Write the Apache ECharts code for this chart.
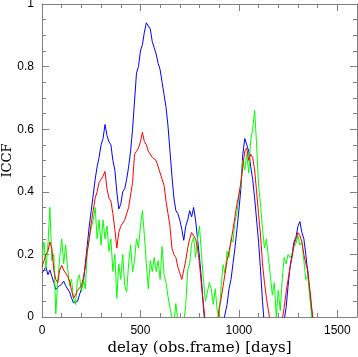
<!DOCTYPE html>
<html>
<head>
<meta charset="utf-8">
<script src="https://cdn.jsdelivr.net/npm/echarts@6/dist/echarts.min.js"></script>
<style>html,body{margin:0;padding:0;background:#fff;}#c{width:358px;height:357px;}</style>
</head>
<body>
<div id="c"></div>
<script>
var xTicks = [0, 500, 1000, 1500];
var yTicks = [0, 0.2, 0.4, 0.6, 0.8, 1];
var delays = [0,10,20,30,40,50,60,70,80,90,100,110,120,130,140,150,160,170,180,190,200,210,220,230,240,250,260,270,280,290,300,310,320,330,340,350,360,370,380,390,400,410,420,430,440,450,460,470,480,490,500,510,520,530,540,550,560,570,580,590,600,610,620,630,640,650,660,670,680,690,700,710,720,730,740,750,760,770,780,790,800,810,820,830,840,850,860,870,880,890,900,910,920,930,940,950,960,970,980,990,1000,1010,1020,1030,1040,1050,1060,1070,1080,1090,1100,1110,1120,1130,1140,1150,1160,1170,1180,1190,1200,1210,1220,1230,1240,1250,1260,1270,1280,1290,1300,1310,1320,1330,1340,1350,1360,1370,1380,1390,1400];
var blueICCF = [0.14,0.15,0.16,0.135,0.15,0.13,0.11,0.088,0.095,0.10,
 0.105,0.115,0.10,0.095,0.08,0.06,0.045,0.043,0.05,0.07,
 0.09,0.11,0.17,0.23,0.29,0.34,0.39,0.44,0.48,0.51,
 0.55,0.57,0.615,0.58,0.56,0.55,0.50,0.47,0.40,0.345,
 0.36,0.40,0.41,0.44,0.48,0.53,0.60,0.69,0.78,0.80,
 0.85,0.87,0.91,0.94,0.935,0.92,0.88,0.86,0.84,0.81,
 0.79,0.75,0.71,0.67,0.61,0.53,0.45,0.38,0.34,0.33,
 0.31,0.28,0.245,0.29,0.31,0.34,0.32,0.35,0.31,0.25,
 0.19,0.12,0.03,-0.04,-0.1,-0.15,-0.2,-0.22,-0.2,-0.16,
 -0.11,-0.06,-0.02,0.01,0.04,0.09,0.12,0.17,0.22,0.28,
 0.34,0.41,0.52,0.57,0.55,0.53,0.48,0.44,0.38,0.31,
 0.24,0.15,0.05,-0.03,-0.1,-0.16,-0.2,-0.22,-0.2,-0.16,
 -0.12,-0.07,-0.03,-0.01,0.03,0.1,0.16,0.2,0.24,0.255,
 0.29,0.305,0.27,0.25,0.2,0.14,0.08,0.02,-0.04,-0.1,
 -0.15];
var redICCF = [0.16,0.18,0.20,0.21,0.24,0.22,0.15,0.12,0.11,0.15,
 0.165,0.15,0.145,0.13,0.115,0.085,0.06,0.07,0.085,0.09,
 0.10,0.125,0.16,0.21,0.25,0.30,0.34,0.38,0.40,0.43,
 0.44,0.45,0.465,0.41,0.38,0.37,0.33,0.28,0.22,0.27,
 0.29,0.30,0.31,0.33,0.35,0.39,0.43,0.52,0.53,0.54,
 0.56,0.59,0.56,0.55,0.53,0.53,0.51,0.51,0.50,0.48,
 0.46,0.44,0.42,0.37,0.33,0.29,0.22,0.20,0.19,0.16,
 0.14,0.12,0.15,0.18,0.22,0.25,0.27,0.27,0.25,0.22,
 0.17,0.10,0.04,-0.02,-0.08,-0.12,-0.14,-0.12,-0.08,-0.02,
 0.03,0.06,0.10,0.14,0.18,0.21,0.24,0.28,0.32,0.36,
 0.39,0.43,0.48,0.53,0.54,0.50,0.52,0.51,0.47,0.40,
 0.33,0.26,0.17,0.11,0.06,0.02,-0.02,-0.06,-0.09,-0.1,
 -0.08,-0.05,-0.01,0.03,0.08,0.12,0.16,0.19,0.23,0.25,
 0.27,0.26,0.24,0.2,0.17,0.15,0.09,0.03,-0.03,-0.08,
 -0.12];
var greenICCF = [0.19,0.24,0.155,0.23,0.35,0.18,0.20,0.01,0.115,0.19,
 0.25,0.17,0.23,0.155,0.10,0.12,0.06,0.04,0.12,0.135,
 0.08,0.12,0.09,0.21,0.25,0.285,0.31,0.35,0.25,0.31,
 0.23,0.31,0.25,0.29,0.21,0.25,0.145,0.2,0.06,0.17,
 0.12,0.2,0.1,0.08,0.17,0.23,0.145,0.18,0.25,0.22,
 0.29,0.34,0.26,0.17,0.09,0.18,0.145,0.19,0.145,0.18,
 0.12,0.225,0.135,0.11,0.065,0.03,0.0,-0.02,0.043,-0.01,
 -0.03,-0.01,-0.02,0.04,0.15,0.17,0.235,0.255,0.19,0.25,
 0.29,0.2,0.12,0.05,0.08,0.11,0.09,0.04,0.09,0.02,
 0.0,0.1,0.167,0.14,0.21,0.19,0.25,0.24,0.305,0.33,
 0.39,0.42,0.5,0.47,0.52,0.46,0.565,0.6,0.66,0.55,
 0.42,0.36,0.28,0.22,0.25,0.19,0.13,0.07,0.11,0.0,
 0.085,0.02,0.12,0.19,0.17,0.2,0.19,0.2,0.225,0.235,
 0.26,0.23,0.24,0.18,0.12,0.13,0.065,0.0,-0.05,-0.1,
 -0.15];

function pairs(vals) { return delays.map(function (d, i) { return [d, vals[i]]; }); }

var gray = '#808080';
var lblFont = { fontFamily: 'Liberation Sans', fontSize: 12, color: '#000' };

function xAx(pos, interval, len, labels, line) {
  var a = {
    type: 'value', min: 0, max: 1600, interval: interval, position: pos,
    axisLine: { show: line, onZero: false, lineStyle: { color: gray, width: 1 } },
    axisTick: { show: true, inside: true, length: len, lineStyle: { color: gray, width: 1 } },
    axisLabel: Object.assign({ show: labels, showMaxLabel: false, margin: 8,
      formatter: function (v) { return xTicks.indexOf(v) >= 0 ? String(v) : ''; } }, lblFont),
    splitLine: { show: false }
  };
  if (labels) {
    a.name = 'delay (obs.frame) [days]';
    a.nameLocation = 'middle';
    a.nameGap = 24;
    a.nameMoveOverlap = false;
    a.nameTextStyle = { fontFamily: 'DejaVu Serif', fontSize: 15, color: '#000' };
  }
  return a;
}
function yAx(pos, labels) {
  var a = {
    type: 'value', min: 0, max: 1, interval: 0.2, position: pos,
    axisLine: { show: true, onZero: false, lineStyle: { color: gray, width: 1 } },
    axisTick: { show: true, inside: true, length: 7, lineStyle: { color: gray, width: 1 } },
    minorTick: { show: true, splitNumber: 4, length: 4, lineStyle: { color: gray, width: 1 } },
    axisLabel: Object.assign({ show: labels, margin: 8,
      formatter: function (v) { return yTicks.indexOf(Math.round(v * 10) / 10) >= 0 ? String(Math.round(v * 10) / 10) : ''; } }, lblFont),
    splitLine: { show: false }
  };
  if (labels) {
    a.name = 'ICCF';
    a.nameLocation = 'middle';
    a.nameGap = 28;
    a.nameMoveOverlap = false;
    a.nameTextStyle = { fontFamily: 'DejaVu Serif', fontSize: 13, color: '#000' };
  }
  return a;
}

var chart = echarts.init(document.getElementById('c'), null, { renderer: 'canvas' });
chart.setOption({
  animation: false,
  backgroundColor: '#fff',
  grid: { left: 42, right: 1, top: 4, bottom: 40, containLabel: false, outerBoundsMode: 'none' },
  xAxis: [xAx('bottom', 500, 7, true, true), xAx('bottom', 100, 4, false, false),
          xAx('top', 500, 7, false, true), xAx('top', 100, 4, false, false)],
  yAxis: [yAx('left', true), yAx('right', false)],
  series: [
    { type: 'line', name: 'blue', data: pairs(blueICCF), showSymbol: false, symbol: 'none',
      lineStyle: { color: '#0000ff', width: 1 }, itemStyle: { color: '#0000ff' }, clip: true },
    { type: 'line', name: 'green', data: pairs(greenICCF), showSymbol: false, symbol: 'none',
      lineStyle: { color: '#00ff00', width: 1 }, itemStyle: { color: '#00ff00' }, clip: true },
    { type: 'line', name: 'red', data: pairs(redICCF), showSymbol: false, symbol: 'none',
      lineStyle: { color: '#ff0000', width: 1 }, itemStyle: { color: '#ff0000' }, clip: true }
  ]
});
</script>
</body>
</html>
